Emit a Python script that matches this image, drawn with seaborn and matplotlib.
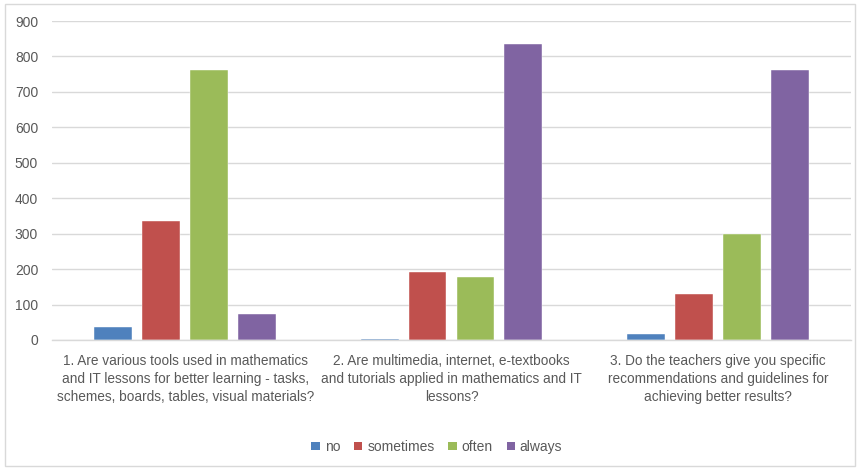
import matplotlib
matplotlib.use("Agg")
import matplotlib.pyplot as plt
import seaborn as sns
import pandas as pd
from matplotlib.patches import Patch, Rectangle

questions = [
    "1. Are various tools used in mathematics\nand IT lessons for better learning - tasks,\nschemes, boards, tables, visual materials?",
    "2. Are multimedia, internet, e-textbooks\nand tutorials applied in mathematics and IT\nlessons?",
    "3. Do the teachers give you specific\nrecommendations and guidelines for\nachieving better results?",
]
answers = ["no", "sometimes", "often", "always"]
no_vals = [38, 4, 18]
sometimes_vals = [336, 192, 130]
often_vals = [762, 179, 300]
always_vals = [73, 836, 762]
colors = ["#4F81BD", "#C0504D", "#9BBB59", "#8064A2"]

rows = []
for ans, vals in zip(answers, [no_vals, sometimes_vals, often_vals, always_vals]):
    for q, v in zip(questions, vals):
        rows.append({"question": q, "answer": ans, "count": v})
df = pd.DataFrame(rows)

sns.set_theme(style="white")
plt.rcParams['font.family'] = ['Liberation Sans', 'DejaVu Sans']

fig = plt.figure(figsize=(8.6, 4.7), dpi=100)
ax = fig.add_axes([0.0605, 0.2766, 0.929, 0.6787])
sns.barplot(data=df, x="question", y="count", hue="answer", order=questions,
            hue_order=answers, palette=colors, saturation=1, width=0.72, gap=0.21,
            edgecolor="white", linewidth=0.3, ax=ax, legend=False)

ax.set_ylim(0, 900)
ax.set_xlim(-0.5, 2.5)
ax.set_yticks(range(0, 901, 100))
ax.yaxis.grid(True, color="#D9D9D9", linewidth=1)
ax.set_axisbelow(True)
for s in ["top", "right", "left"]:
    ax.spines[s].set_visible(False)
ax.spines["bottom"].set_color("#D9D9D9")
ax.spines["bottom"].set_linewidth(1)
ax.set_xlabel("")
ax.set_ylabel("")
ax.tick_params(axis="both", length=0, colors="#595959")
ax.tick_params(axis="y", pad=10, labelsize=10)
ax.tick_params(axis="x", pad=10, labelsize=9.8)
for lab in ax.get_xticklabels():
    lab.set_linespacing(1.36)
    lab.set_horizontalalignment("center")

handles = [Patch(facecolor=c, edgecolor="none", label=a) for a, c in zip(answers, colors)]
fig.legend(handles=handles, loc="center", bbox_to_anchor=(0.508, 0.049), ncol=4,
           frameon=False, handlelength=0.6, handleheight=0.6, handletextpad=0.35,
           columnspacing=1.0, fontsize=10, labelcolor="#595959")

fig.patches.append(Rectangle((0.006, 0.008), 0.988, 0.983, transform=fig.transFigure,
                             fill=False, edgecolor="#D9D9D9", linewidth=1))

fig.savefig("out.png", dpi=100, facecolor="white")
